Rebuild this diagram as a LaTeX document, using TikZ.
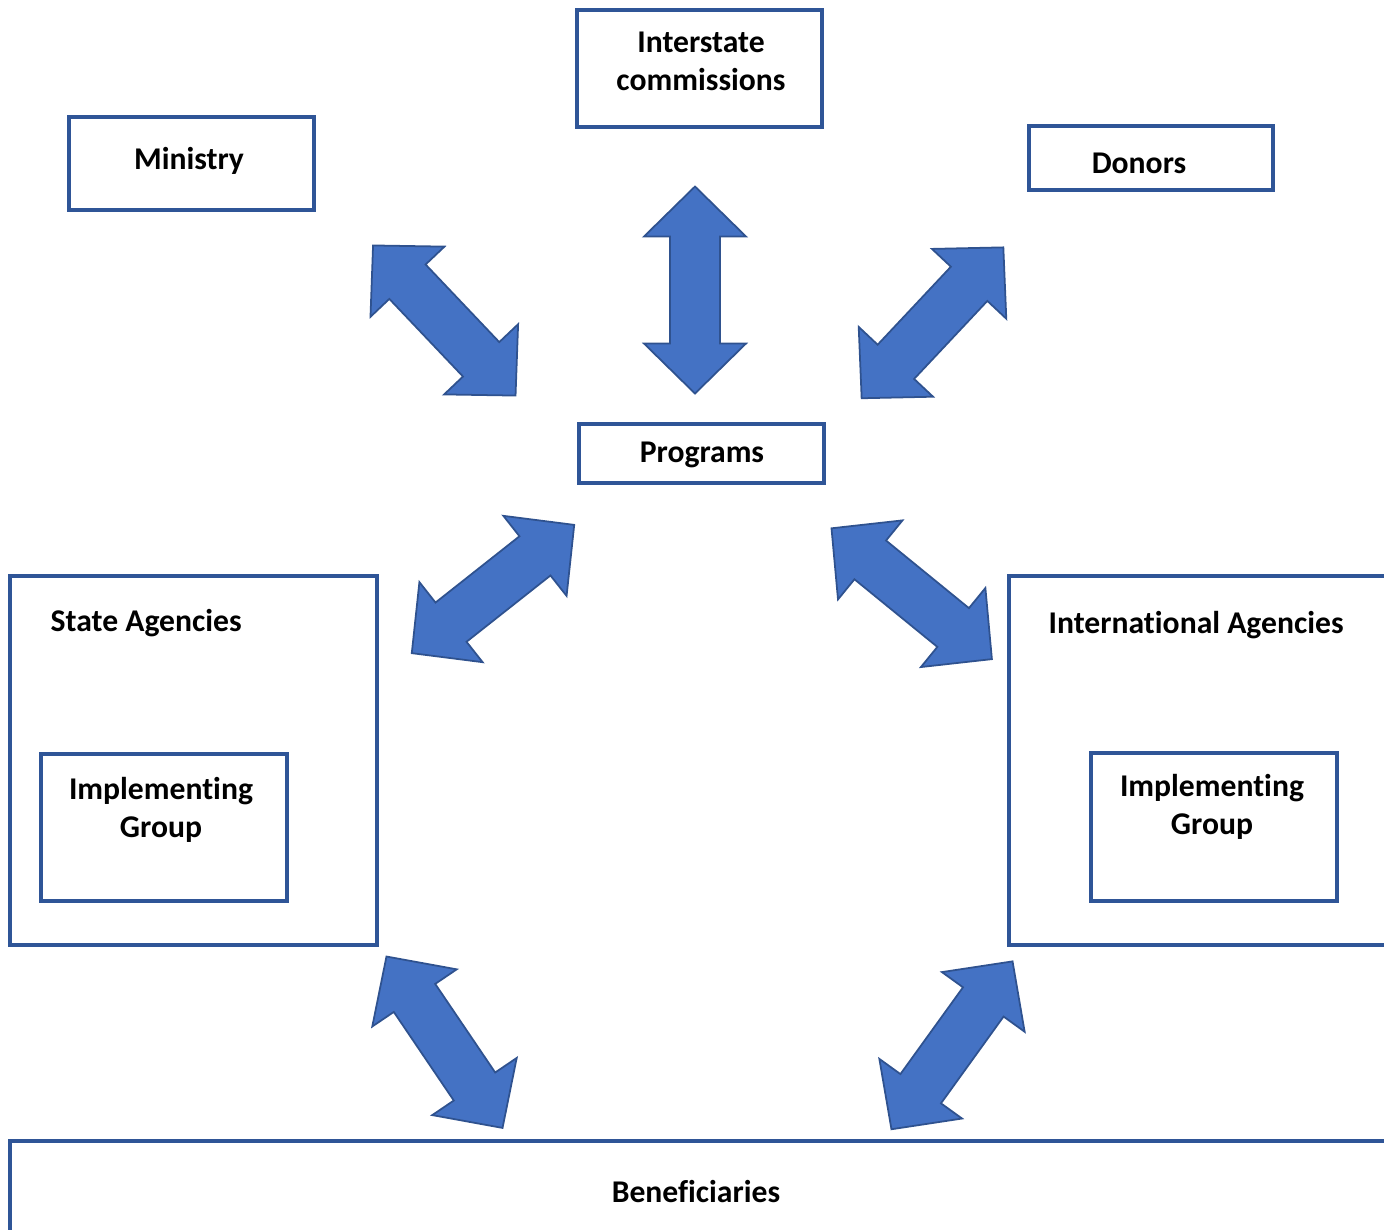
\documentclass[tikz,border=0pt]{standalone}
\usepackage{fontspec}
\setmainfont{Carlito}[Ligatures={NoCommon}]
\usepackage{tikz}
\usepackage{xcolor}

\definecolor{boxline}{RGB}{47,85,151}
\definecolor{arrowfill}{RGB}{68,114,196}
\definecolor{arrowline}{RGB}{47,82,143}

\tikzset{
  pics/dblarrow/.style={code={
    \draw[arrowpart] (-103.5,0) -- (-53.5,51) -- (-53.5,25) -- (53.5,25) -- (53.5,51)
      -- (103.5,0) -- (53.5,-51) -- (53.5,-25) -- (-53.5,-25) -- (-53.5,-51) -- cycle;
  }}
}

\begin{document}
\begin{tikzpicture}[x=0.01cm, y=-0.01cm,
  box/.style={draw=boxline, line width=1pt},
  arrowpart/.style={fill=arrowfill, draw=arrowline, line width=0.5pt, line join=miter},
  lbl/.style={font=\fontsize{9}{10.8}\selectfont\bfseries, inner sep=0pt, align=center}]
\useasboundingbox (0,0) rectangle (1384,1229);

\draw[box] (577,10) rectangle (822,127);
\draw[box] (69,117) rectangle (314,210);
\draw[box] (1029,126) rectangle (1273,190);
\draw[box] (579,424) rectangle (824,483);
\draw[box] (10,576) rectangle (377,945);
\draw[box] (41,754) rectangle (287,901);
\draw[box] (1009,576) rectangle (1410,945);
\draw[box] (1091,753) rectangle (1337,901);
\draw[box] (10,1141) rectangle (1410,1260);

\node[lbl] (interstate) at (701,61) {Interstate\\ commissions};
\node[lbl] (ministry) at (189,161) {Ministry};
\node[lbl] (donors) at (1139,163) {Donors};
\node[lbl] (programs) at (702,455) {Programs};
\node[lbl, anchor=west] (state) at (50,623) {State Agencies};
\node[lbl, anchor=west] (intl) at (1048,625) {International Agencies};
\node[lbl] (implleft) at (161,810) {Implementing\\ Group};
\node[lbl] (implright) at (1212,807) {Implementing\\ Group};
\node[lbl] (benef) at (696,1191) {Beneficiaries};

\pic[rotate=90] at (695,290) {dblarrow};
\pic[rotate=-46.5] at (444.3,320.5) {dblarrow};
\pic[rotate=46.8] at (932.5,322.8) {dblarrow};
\pic[rotate=38.3] at (493,589) {dblarrow};
\pic[rotate=-39.2] at (911.7,593.7) {dblarrow};
\pic[rotate=-55.9] at (444.5,1042.2) {dblarrow};
\pic[rotate=54.2] at (952,1045.3) {dblarrow};
\end{tikzpicture}
\end{document}
